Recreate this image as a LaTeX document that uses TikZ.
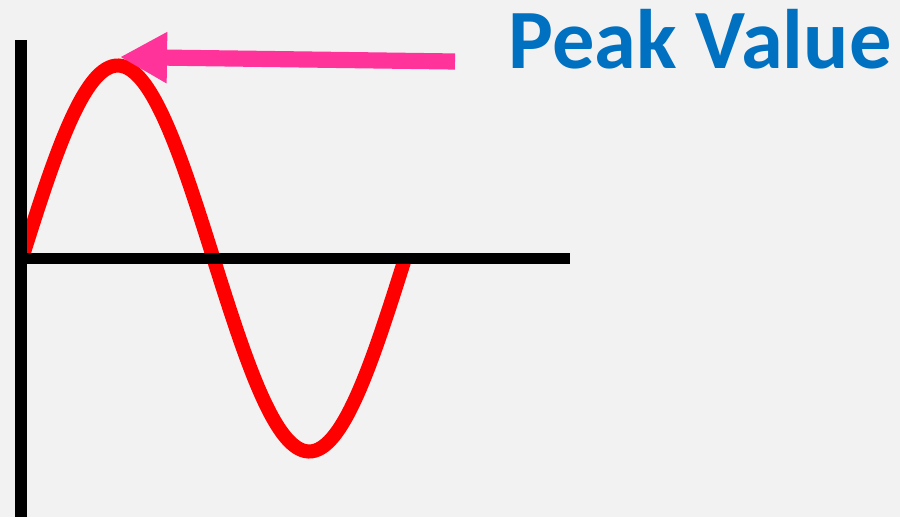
\documentclass[tikz,border=0pt]{standalone}
\usepackage{fontspec}
\setmainfont{Carlito}
\usetikzlibrary{arrows.meta}

\definecolor{bgGrey}{HTML}{F2F2F2}
\definecolor{peakPink}{HTML}{FF3399}
\definecolor{peakBlue}{HTML}{0070C0}

\tikzset{
  axis/.style={black, line width=3.3pt},
  wave/.style={red, line width=4pt},
  pointer/.style={peakPink, line width=4.6pt, -{Triangle[length=0.47cm, width=0.48cm]}},
}

\begin{document}
\begin{tikzpicture}[x=0.01cm, y=0.01cm]
  \fill[bgGrey] (0, 0) rectangle (900, 517);
  \useasboundingbox (0, 0) rectangle (900, 517);
  \begin{scope}
    \draw[wave, domain=0:383, samples=120, smooth, variable=\x] plot ({22+\x}, {258.5+193*sin(\x/383*360)});
    \draw[axis] (21, 477) -- (21, 0);
    \draw[axis] (15, 258.5) -- (570, 258.5);
  \end{scope}
  \coordinate (peak) at (120, 460);
  \coordinate (tail) at (455, 455.5);
  \node[anchor=base west, inner sep=0, text=peakBlue, font=\bfseries\fontsize{24}{29}\selectfont] (label) at (508, 449) {Peak Value};
  \draw[pointer] (tail) -- (peak);
\end{tikzpicture}
\end{document}
